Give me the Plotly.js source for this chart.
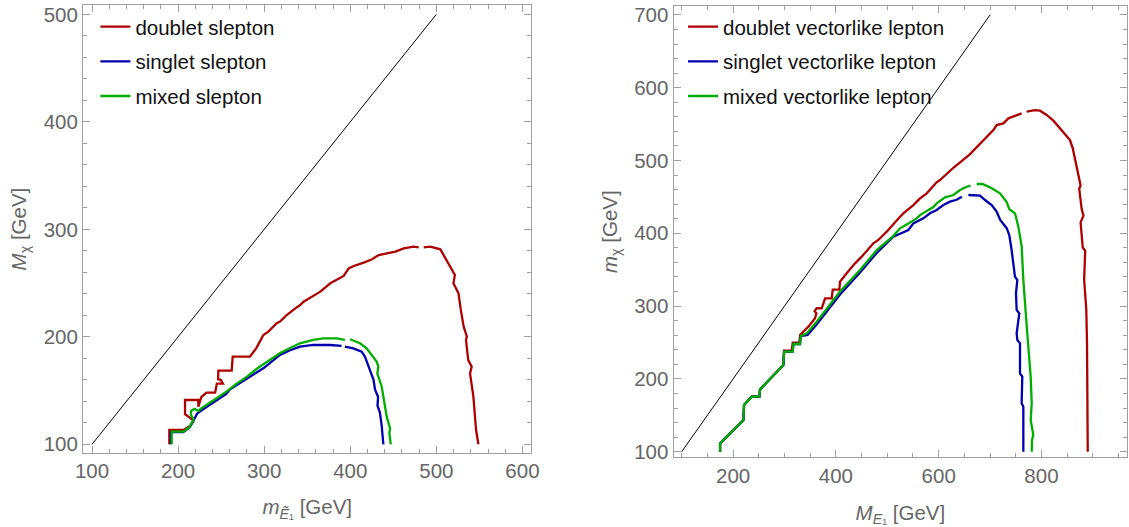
<!DOCTYPE html>
<html>
<head>
<meta charset="utf-8">
<script src="https://cdn.plot.ly/plotly-3.0.1.min.js"></script>
<style>
  html, body { margin: 0; padding: 0; background: #ffffff; }
  #chart { width: 1129px; height: 527px; }
</style>
</head>
<body>
<div id="chart"></div>
<script>
// ---------- Data ----------
// Left panel: sleptons, x = m_E1~ [GeV], y = M_chi [GeV]
const leftDiagX = [100, 500];
const leftDiagY = [100, 500];

const leftDoubletX = [189.8, 189.8, 206, 214, 218, 212, 208, 208, 223.5, 223.5, 227, 233, 243, 245, 252, 249.5, 246.5, 246.7, 262.2, 263.4, 283.5, 291.2, 297, 299, 304.8, 314.5, 318.4, 322.2, 326.1, 336.1, 341.8, 345.7, 355.4, 365.2, 376.8, 386.5, 392.3, 398.1, 404, 415.6, 425.3, 433, 442.7, 452.4, 462.1, 473.7, 479.5, null, 485.3, 493, 504.6, 512.4, 521.5, 519.8, 525.7, 528.4, 531.7, 535.4, 534.4, 537, 541, 539.1, 543, 546.1, 548.8];
const leftDoubletY = [100, 113.3, 113.3, 117, 122, 125.5, 128, 141.2, 141.2, 135, 144, 148, 148, 156.5, 156.5, 160, 160.5, 168.5, 168.5, 181.5, 181.5, 190, 198, 201.7, 204.8, 212.6, 214.1, 217.2, 220.3, 226.5, 229.6, 232.7, 237.4, 242, 249.8, 254.4, 256.6, 263.7, 265.9, 269, 272.1, 276.1, 277.7, 279.2, 282.3, 283.9, 283.3, null, 283.3, 283.9, 281.4, 269.9, 257.5, 249.8, 240.5, 225, 209.5, 200.2, 197, 178.4, 172.2, 166, 144.3, 113.3, 100];

const leftSingletX = [191.5, 191.5, 206, 213, 217, 222, 226, 242, 256, 260.3, 268, 279.6, 299, 318.3, 330, 341.6, 357, 376.3, 389.9, null, 393.8, 403.5, 413.2, 417, 421, 424, 427, 428.7, 432.3, 431.6, 434.5, 436.5, 438.4];
const leftSingletY = [100, 111.3, 111.3, 115.5, 121, 128.5, 131, 139.5, 147, 151.2, 155, 161.4, 170.7, 183.1, 187.5, 190.9, 192.4, 192.4, 191.5, null, 190.9, 189.3, 186.2, 181.6, 173, 167, 160, 151, 144, 136, 129, 117, 100];

const leftMixedX = [192.5, 192.5, 206, 213, 218, 215, 215, 219, 224, 226, 242, 256, 268, 280, 291, 304, 318, 330, 341.6, 357, 368.6, 384.1, 393.8, null, 399.7, 411.3, 419, 424.8, 430.6, 432.6, 431.4, 436.5, 438.4, 442.3, 446.2, 445.4, 447];
const leftMixedY = [100, 111.8, 111.8, 116, 123, 127, 131, 133, 131, 133, 141.5, 149, 156.5, 163, 170, 177, 184.7, 189.5, 194, 197.1, 198.6, 198.6, 197.1, null, 197.7, 194, 189.3, 183.1, 176.9, 172.2, 166, 153.6, 144.3, 125.7, 114.9, 110.2, 100];

// Right panel: vectorlike leptons, x = M_E1 [GeV], y = m_chi [GeV]
const rightDiagX = [100, 700];
const rightDiagY = [100, 700];

const rightDoubletX = [174.6, 174.6, 220, 221.3, 236.2, 251.1, 252.4, 297.8, 299.1, 314, 316, 328.9, 330.2, 346.4, 359.4, 362, 358.5, 362.6, 372.4, 378.9, 391.8, 393.8, 406.7, 408, 421, 437.2, 450.2, 472.9, 482.5, 498.8, 524.8, 531.2, 550.7, 563.6, 576.7, 596, 602.6, 628.5, 660, 680.4, 693.4, 706.4, 712.8, 725.8, 735.6, 751.8, 761.4, null, 771.1, 787.4, 797.1, 810.1, 823.1, 839.3, 855.5, 860.9, 867.8, 876.1, 873.4, 878.2, 881.7, 876.1, 880.3, 885.1, 883, 887.2, 888.6, 890];
const rightDoubletY = [100, 111.4, 143.5, 164.1, 175.5, 175.5, 185.6, 219, 238.7, 238.7, 249.7, 249.7, 260.3, 271.7, 283.2, 290, 293, 297, 297, 310.6, 310.6, 322.5, 322.5, 333.5, 345, 358.7, 367.9, 386.2, 390.8, 402.2, 422.8, 427.4, 438.8, 448, 454.9, 470, 473.2, 490, 508, 523.5, 532.7, 541.8, 548.7, 551, 557.9, 562.5, 564.7, null, 567, 569.3, 568.4, 562.5, 554.7, 541.8, 528.1, 516.6, 493.5, 465.8, 461.2, 433.5, 424.2, 415, 380.4, 375.8, 336.5, 294.9, 248.7, 100];

const rightSingletX = [174.6, 174.6, 220, 221.3, 236.2, 251.1, 252.4, 297.8, 299.1, 316, 317.3, 330.2, 331.5, 345, 364, 408, 447, 479.4, 511.8, 531.3, 541, 550.7, 563.6, 570.2, 583.1, 596.1, 609.1, 622, 635, 645, null, 657.7, 673.9, 680.4, 690.1, 703.1, 712.8, 720, 732.3, 737.5, 741.9, 748.4, 753, 750.4, 751.7, 756.9, 751.7, 753, 758.2, 758.2, 762.7, 761.4, 764.7, 764.7];
const rightSingletY = [100, 111.4, 143.5, 164.1, 175.5, 175.5, 185.6, 219, 237.4, 237.4, 247.9, 247.9, 258.9, 260.5, 276, 316, 346, 373, 395.3, 402.2, 404.5, 413.6, 418.2, 420.5, 427.4, 432, 438.8, 443.4, 446, 450.3, null, 452.6, 452.6, 451.6, 445.7, 438.8, 429.7, 418, 407, 397, 377, 340.4, 335.8, 317.5, 294.6, 290, 262.5, 253.4, 248.8, 207.6, 203, 166.4, 161.8, 100];

const rightMixedX = [174.6, 174.6, 220, 221.3, 236.2, 251.1, 252.4, 297.8, 299.1, 316, 317.3, 330.2, 331.5, 343.2, 362.6, 408, 447, 479.4, 511.8, 524.8, 541, 557.2, 563.6, 576.7, 589.6, 596.1, 612.3, 628.5, 641.5, 654.5, 662, null, 673.9, 685, 700, 719.3, 732.3, 737.5, 748.5, 755, 761.5, 764.7, 769.9, 774.5, 779, 781, 779, 784.1, 781.6, 781];
const rightMixedY = [100, 111.4, 143.5, 164.1, 175.5, 175.5, 185.6, 219, 237.4, 237.4, 247.9, 247.9, 258.9, 262.5, 278.6, 320, 349.5, 377, 396.5, 406.8, 413.6, 420.5, 425, 431, 436, 441.1, 449.4, 452.6, 459.4, 464, 465.5, null, 467.7, 467.7, 463.1, 454.9, 443, 433, 427.4, 409.1, 381.6, 335.8, 285.4, 239.7, 203, 166.4, 143.5, 122.9, 116, 100];

// Names / labels
const leftNames = ["doublet slepton", "singlet slepton", "mixed slepton"];
const rightNames = ["doublet vectorlike lepton", "singlet vectorlike lepton", "mixed vectorlike lepton"];
const leftXTicks = [100, 200, 300, 400, 500, 600];
const leftYTicks = [100, 200, 300, 400, 500];
const rightXTicks = [200, 400, 600, 800];
const rightYTicks = [100, 200, 300, 400, 500, 600, 700];

// ---------- Styling ----------
const RED = "#ad0000", BLUE = "#0000ad", GREEN = "#00ad00";
const FONT = "Liberation Sans, Arial, sans-serif";
const GRAYTXT = "#666666";
const FRAME = "#a0a0a0";
const LW = 2.3;
const FS = 20.5;

function curve(x, y, name, color, xa, ya, legend, group) {
  return {
    x: x, y: y, name: name, type: "scatter", mode: "lines",
    line: { color: color, width: LW }, connectgaps: false,
    xaxis: xa, yaxis: ya, legend: legend, legendgroup: group,
    hoverinfo: "skip"
  };
}

const traces = [
  { x: leftDiagX, y: leftDiagY, type: "scatter", mode: "lines", line: { color: "#000", width: 1 }, showlegend: false, xaxis: "x", yaxis: "y", hoverinfo: "skip" },
  curve(leftDoubletX, leftDoubletY, leftNames[0], RED, "x", "y", "legend", "a"),
  curve(leftSingletX, leftSingletY, leftNames[1], BLUE, "x", "y", "legend", "b"),
  curve(leftMixedX, leftMixedY, leftNames[2], GREEN, "x", "y", "legend", "c"),
  { x: rightDiagX, y: rightDiagY, type: "scatter", mode: "lines", line: { color: "#000", width: 1 }, showlegend: false, xaxis: "x2", yaxis: "y2", hoverinfo: "skip" },
  curve(rightDoubletX, rightDoubletY, rightNames[0], RED, "x2", "y2", "legend2", "d"),
  curve(rightSingletX, rightSingletY, rightNames[1], BLUE, "x2", "y2", "legend2", "e"),
  curve(rightMixedX, rightMixedY, rightNames[2], GREEN, "x2", "y2", "legend2", "f")
];

function axis(domain, range, ticks, minorDtick, title, anchor, standoff) {
  return {
    domain: domain, range: range, anchor: anchor,
    tickmode: "array", tickvals: ticks, ticktext: ticks.map(String),
    ticks: "inside", ticklen: 7, tickwidth: 1, tickcolor: FRAME,
    minor: { dtick: minorDtick, ticks: "inside", ticklen: 4, tickwidth: 1, tickcolor: FRAME, showgrid: false },
    showline: true, linecolor: FRAME, linewidth: 1, mirror: "allticks",
    showgrid: false, zeroline: false,
    tickfont: { family: FONT, size: FS, color: GRAYTXT },
    title: { text: title, font: { family: FONT, size: FS, color: GRAYTXT }, standoff: standoff },
    automargin: false, fixedrange: true
  };
}

const layout = {
  width: 1129, height: 527,
  margin: { l: 0, r: 0, t: 0, b: 0 },
  paper_bgcolor: "#ffffff", plot_bgcolor: "#ffffff",
  showlegend: true,
  xaxis: axis([0.07352, 0.47077], [89.5, 610.5], leftXTicks, 20, "<i>m</i><sub><i>Ẽ</i>₁</sub> [GeV]", "y", 18),
  yaxis: axis([0.14061, 0.99013], [92, 508.5], leftYTicks, 20, "<i>M</i><sub>χ</sub> [GeV]", "x", 11),
  xaxis2: axis([0.59655, 0.99850], [84, 967], rightXTicks, 50, "<i>M</i><sub><i>E</i>₁</sub> [GeV]", "y2", 20),
  yaxis2: axis([0.13188, 0.98899], [92, 712.5], rightYTicks, 20, "<i>m</i><sub>χ</sub> [GeV]", "x2", 11),
  legend: {
    x: 0.0845, y: 0.987, xanchor: "left", yanchor: "top",
    bgcolor: "rgba(255,255,255,0)", borderwidth: 0,
    font: { family: FONT, size: FS, color: "#111" },
    traceorder: "grouped", tracegroupgap: 5
  },
  legend2: {
    x: 0.605, y: 0.987, xanchor: "left", yanchor: "top",
    bgcolor: "rgba(255,255,255,0)", borderwidth: 0,
    font: { family: FONT, size: FS, color: "#111" },
    traceorder: "grouped", tracegroupgap: 5
  }
};

Plotly.newPlot("chart", traces, layout, { staticPlot: true, displayModeBar: false });
</script>
</body>
</html>
